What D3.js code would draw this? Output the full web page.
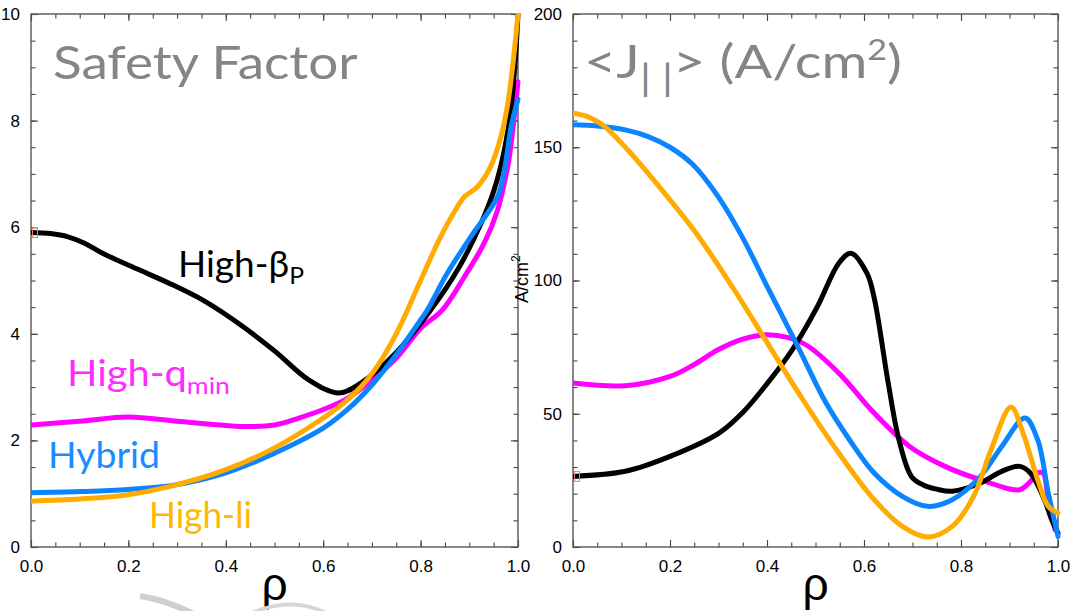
<!DOCTYPE html>
<html>
<head>
<meta charset="utf-8">
<script src="https://cdn.jsdelivr.net/npm/d3@7"></script>
<style>
  html, body { margin: 0; padding: 0; background: #fff; }
  svg { display: block; }
</style>
</head>
<body>
<svg id="chart" width="1078" height="611"></svg>
<script>
// ---- Safety factor q(rho) profiles ----
const qBetaRho   = [0, 0.04, 0.076, 0.11, 0.147, 0.217, 0.288, 0.359, 0.43, 0.5, 0.571, 0.632, 0.678, 0.749, 0.821, 0.876, 0.924, 0.951, 0.972, 0.986, 0.995, 1.0];
const qBeta      = [5.9, 5.88, 5.82, 5.7, 5.51, 5.22, 4.93, 4.6, 4.17, 3.68, 3.13, 2.89, 3.08, 3.64, 4.45, 5.2, 6.07, 6.7, 7.45, 8.26, 9.2, 10];
const qQminRho   = [0, 0.1, 0.2, 0.3, 0.4, 0.45, 0.5, 0.55, 0.6, 0.65, 0.7, 0.75, 0.8, 0.845, 0.89, 0.931, 0.958, 0.979, 0.986, 1.0];
const qQmin      = [2.29, 2.36, 2.44, 2.36, 2.28, 2.26, 2.29, 2.42, 2.58, 2.79, 3.14, 3.54, 4.1, 4.45, 5.07, 5.71, 6.32, 7.14, 7.57, 8.73];
const qHybridRho = [0, 0.1, 0.2, 0.3, 0.4, 0.5, 0.6, 0.65, 0.7, 0.75, 0.8, 0.814, 0.855, 0.903, 0.958, 0.972, 0.986, 1.0];
const qHybrid    = [1.02, 1.04, 1.08, 1.17, 1.39, 1.76, 2.23, 2.58, 3.04, 3.61, 4.26, 4.45, 5.14, 5.82, 6.57, 7.07, 7.89, 8.4];
const qLiRho     = [0, 0.1, 0.2, 0.3, 0.4, 0.5, 0.6, 0.65, 0.7, 0.75, 0.8, 0.84, 0.87, 0.89, 0.917, 0.944, 0.965, 0.979, 0.99, 1.0];
const qLi        = [0.86, 0.9, 0.98, 1.17, 1.45, 1.86, 2.42, 2.76, 3.25, 4.0, 5.0, 5.8, 6.3, 6.57, 6.76, 7.14, 7.7, 8.32, 9.1, 10];

// ---- Parallel current density <J||>(rho) profiles, A/cm^2 ----
const jBetaRho   = [0, 0.108, 0.2, 0.301, 0.35, 0.401, 0.452, 0.504, 0.548, 0.573, 0.606, 0.621, 0.65, 0.672, 0.698, 0.722, 0.75, 0.782, 0.84, 0.884, 0.921, 0.943, 0.972, 0.987, 1.0];
const jBeta      = [26.5, 28.4, 34, 42.75, 50.5, 61.5, 74, 90.25, 106.5, 110.25, 102.75, 93.5, 61.5, 40.25, 26.4, 23.3, 21.7, 20.9, 24, 28.4, 30.25, 27.75, 17.75, 10.25, 5.25];
const jQminRho   = [0, 0.108, 0.2, 0.25, 0.299, 0.35, 0.401, 0.474, 0.548, 0.621, 0.694, 0.767, 0.84, 0.921, 0.943, 0.958, 0.969, 0.98, 0.994];
const jQmin      = [61.5, 60.5, 64, 68.5, 74, 78, 79.6, 76.5, 65.25, 50.25, 37.75, 30.25, 25.25, 21.5, 24.6, 27.75, 27.75, 17.75, 6.5];
const jHybridRho = [0, 0.05, 0.108, 0.155, 0.2, 0.247, 0.301, 0.35, 0.401, 0.467, 0.518, 0.57, 0.621, 0.679, 0.731, 0.782, 0.84, 0.884, 0.932, 0.958, 0.98, 1.0];
const jHybrid    = [158.4, 158, 156.5, 154, 150, 143.5, 131, 116, 97.5, 74, 55.25, 40.25, 27.75, 19, 15.25, 17.75, 26.5, 37.75, 48.4, 40.25, 20.25, 4];
const jLiRho     = [0, 0.03, 0.06, 0.108, 0.181, 0.254, 0.328, 0.401, 0.474, 0.548, 0.621, 0.679, 0.731, 0.782, 0.826, 0.862, 0.903, 0.928, 0.958, 0.98, 1.0];
const jLi        = [162.75, 161.5, 158.5, 150, 134.5, 117.75, 97.75, 76.5, 55.25, 35.25, 17.75, 7.75, 3.75, 7.75, 19, 36.5, 52.5, 42.75, 25.25, 15.25, 12.75];

// ---- Axis ticks ----
const rhoMajor = [0, 0.2, 0.4, 0.6, 0.8, 1.0];
const qMajor = [0, 2, 4, 6, 8, 10];
const jMajor = [0, 50, 100, 150, 200];

const colors = { beta: "#000000", qmin: "#ff00ff", hybrid: "#0a84ff", li: "#ffab00" };

const svg = d3.select("#chart");

function zip(xs, ys) { return xs.map((x, i) => [x, ys[i]]); }

function fitWidth(sel, x0, width) {
  const b = sel.node().getBBox();
  const s = width / b.width;
  sel.attr("transform", `translate(${x0},0) scale(${s},1) translate(${-b.x},0)`);
}

function panel(cfg) {
  const { x0, x1, y0, y1, yMax, yMajor, yMinorStep, id } = cfg;
  const x = d3.scaleLinear().domain([0, 1]).range([x0, x1]);
  const y = d3.scaleLinear().domain([0, yMax]).range([y1, y0]);
  const g = svg.append("g");

  const rhoMinor = d3.range(0, 1.0001, 0.05).map(v => +v.toFixed(2));
  const yMinor = d3.range(0, yMax + 1e-6, yMinorStep);

  const tickStyle = a => a.call(s => s.select(".domain").remove())
    .call(s => s.selectAll("line").attr("stroke", "#444").attr("stroke-width", 1.1));

  // minor ticks on all four sides (pointing inward)
  g.append("g").attr("transform", `translate(0,${y1})`)
    .call(d3.axisBottom(x).tickValues(rhoMinor).tickSize(-4.5).tickFormat("")).call(tickStyle);
  g.append("g").attr("transform", `translate(0,${y0})`)
    .call(d3.axisTop(x).tickValues(rhoMinor).tickSize(-4.5).tickFormat("")).call(tickStyle);
  g.append("g").attr("transform", `translate(${x0},0)`)
    .call(d3.axisLeft(y).tickValues(yMinor).tickSize(-4.5).tickFormat("")).call(tickStyle);
  g.append("g").attr("transform", `translate(${x1},0)`)
    .call(d3.axisRight(y).tickValues(yMinor).tickSize(-4.5).tickFormat("")).call(tickStyle);

  // major ticks with labels
  const lab = s => s.selectAll("text").attr("font-family", "'Liberation Sans', Arial, sans-serif")
    .attr("font-size", 17).attr("fill", "#000");
  g.append("g").attr("transform", `translate(0,${y1})`)
    .call(d3.axisBottom(x).tickValues(rhoMajor).tickSize(-7).tickPadding(13).tickFormat(d3.format(".1f")))
    .call(tickStyle).call(lab);
  g.append("g").attr("transform", `translate(0,${y0})`)
    .call(d3.axisTop(x).tickValues(rhoMajor).tickSize(-7).tickFormat("")).call(tickStyle);
  g.append("g").attr("transform", `translate(${x0},0)`)
    .call(d3.axisLeft(y).tickValues(yMajor).tickSize(-7).tickPadding(11).tickFormat(d3.format("d")))
    .call(tickStyle).call(lab);
  g.append("g").attr("transform", `translate(${x1},0)`)
    .call(d3.axisRight(y).tickValues(yMajor).tickSize(-7).tickFormat("")).call(tickStyle);

  // frame
  g.append("rect").attr("x", x0).attr("y", y0).attr("width", x1 - x0).attr("height", y1 - y0)
    .attr("fill", "none").attr("stroke", "#555").attr("stroke-width", 1.4);

  // clip for curves
  svg.append("clipPath").attr("id", id).append("rect")
    .attr("x", x0).attr("y", y0 - 1).attr("width", x1 - x0 + 3).attr("height", y1 - y0 + 1);

  // rho axis title
  g.append("text").attr("x", (x0 + x1) / 2).attr("y", 600).attr("text-anchor", "middle")
    .attr("font-family", "'Liberation Sans', Arial, sans-serif").attr("font-size", 46).text("ρ");

  return { g, x, y };
}

function drawCurves(p, series, clipId) {
  const line = d3.line().x(d => p.x(d[0])).y(d => p.y(d[1])).curve(d3.curveCatmullRom.alpha(0.5));
  const cg = p.g.append("g").attr("clip-path", `url(#${clipId})`);
  series.forEach(s => {
    cg.append("path").datum(zip(s.rho, s.val)).attr("d", line)
      .attr("fill", "none").attr("stroke", s.color).attr("stroke-width", 5)
      .attr("stroke-linejoin", "round").attr("stroke-linecap", "round");
  });
  // small marker at the axis for the first High-beta_P point
  const first = series.find(s => s.key === "beta");
  p.g.append("rect").attr("x", p.x(0) + 1.5).attr("y", p.y(first.val[0]) - 5)
    .attr("width", 5).attr("height", 10).attr("fill", "none")
    .attr("stroke", "#f08080").attr("stroke-width", 1);
}

// ---- Left panel: safety factor ----
const left = panel({ x0: 31, x1: 518, y0: 14, y1: 547, yMax: 10, yMajor: qMajor, yMinorStep: 0.5, id: "clipL" });
drawCurves(left, [
  { key: "qmin", rho: qQminRho, val: qQmin, color: colors.qmin },
  { key: "beta", rho: qBetaRho, val: qBeta, color: colors.beta },
  { key: "hybrid", rho: qHybridRho, val: qHybrid, color: colors.hybrid },
  { key: "li", rho: qLiRho, val: qLi, color: colors.li }
], "clipL");

// ---- Right panel: parallel current density ----
const right = panel({ x0: 573, x1: 1058, y0: 14, y1: 547, yMax: 200, yMajor: jMajor, yMinorStep: 10, id: "clipR" });
drawCurves(right, [
  { key: "qmin", rho: jQminRho, val: jQmin, color: colors.qmin },
  { key: "beta", rho: jBetaRho, val: jBeta, color: colors.beta },
  { key: "hybrid", rho: jHybridRho, val: jHybrid, color: colors.hybrid },
  { key: "li", rho: jLiRho, val: jLi, color: colors.li }
], "clipR");

// small rotated unit label
svg.append("text")
  .attr("transform", "translate(528,303) rotate(-90)")
  .attr("font-family", "'Liberation Sans', Arial, sans-serif").attr("font-size", 18)
  .html('A/cm<tspan font-size="12" dy="-8">2</tspan>');

// ---- Panel titles ----
const titleFont = "Lato, 'Open Sans', 'DejaVu Sans', sans-serif";
const t1 = svg.append("text").attr("y", 79).attr("font-family", titleFont).attr("font-size", 46)
  .attr("fill", "#858585").text("Safety Factor");
fitWidth(t1, 53, 305);

const t2 = svg.append("text").attr("y", 78).attr("font-family", titleFont).attr("font-size", 46)
  .attr("fill", "#858585")
  .html('&lt;J<tspan font-size="36" dy="13">| |</tspan><tspan font-size="46" dy="-13">&gt; (A/cm</tspan><tspan font-size="28" dy="-18">2</tspan><tspan font-size="46" dy="18">)</tspan>');
fitWidth(t2, 584, 318);

// ---- Curve labels ----
const labFont = "Lato, 'Open Sans', 'DejaVu Sans', sans-serif";
const l1 = svg.append("text").attr("y", 277).attr("font-family", labFont).attr("font-size", 36)
  .attr("fill", "#000").html('High-β<tspan font-size="24" dy="7">P</tspan>');
fitWidth(l1, 178, 126);
const l2 = svg.append("text").attr("y", 386).attr("font-family", labFont).attr("font-size", 36)
  .attr("fill", "#ff2cff").html('High-q<tspan font-size="24" dy="8">min</tspan>');
fitWidth(l2, 67, 163);
const l3 = svg.append("text").attr("y", 468).attr("font-family", labFont).attr("font-size", 36)
  .attr("fill", "#1a8cff").text("Hybrid");
fitWidth(l3, 48, 112);
const l4 = svg.append("text").attr("y", 528).attr("font-family", labFont).attr("font-size", 36)
  .attr("fill", "#ffb800").text("High-li");
fitWidth(l4, 149, 103);

// ---- faint logo swoosh at the bottom edge ----
svg.append("path").attr("d", "M140,596 Q165,600 192,613")
  .attr("fill", "none").attr("stroke", "#cfcfcf").attr("stroke-width", 6);
svg.append("path").attr("d", "M252,613 Q292,596 326,613")
  .attr("fill", "none").attr("stroke", "#d6d6d6").attr("stroke-width", 4);
</script>
</body>
</html>
